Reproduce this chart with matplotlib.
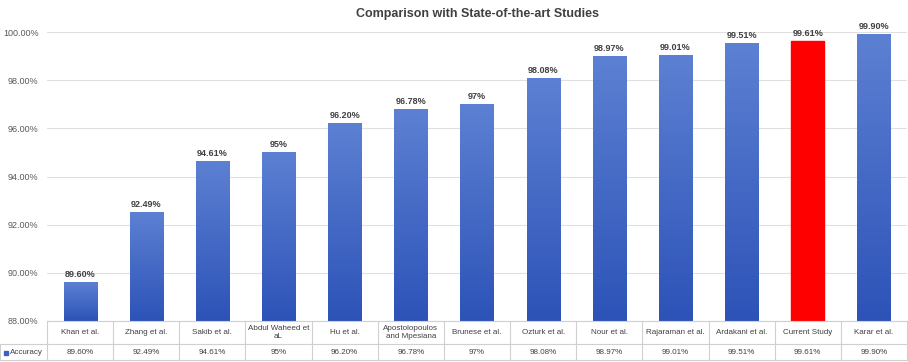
import numpy as np
import matplotlib
matplotlib.use("Agg")
import matplotlib.pyplot as plt
from matplotlib.lines import Line2D
from matplotlib.patches import Rectangle

# -----------------------
# Data
# -----------------------
studies = ["Khan et al.", "Zhang et al.", "Sakib et al.", "Abdul Waheed et\naL", "Hu et al.",
           "Apostolopoulos\nand Mpesiana", "Brunese et al.", "Ozturk et al.", "Nour et al.",
           "Rajaraman et al.", "Ardakani et al.", "Current Study", "Karar et al."]
accuracy = [89.60, 92.49, 94.61, 95.0, 96.20, 96.78, 97.0, 98.08, 98.97, 99.01, 99.51, 99.61, 99.90]
value_labels = ["89.60%", "92.49%", "94.61%", "95%", "96.20%", "96.78%", "97%", "98.08%",
                "98.97%", "99.01%", "99.51%", "99.61%", "99.90%"]
highlight = "Current Study"
y_ticks = [88, 90, 92, 94, 96, 98, 100]

W, H = 908, 362
fig = plt.figure(figsize=(W / 100, H / 100), dpi=100)
plt.rcParams['font.family'] = ['Liberation Sans', 'DejaVu Sans']

# axes box in pixel coords
left, right, top, bottom = 47, 907, 32, 321
ax = fig.add_axes([left / W, 1 - bottom / H, (right - left) / W, (bottom - top) / H])

x = np.arange(len(studies))
bars = ax.bar(x, [a - 88 for a in accuracy], bottom=88, width=0.5, color="none", zorder=3)

# gradient fill for the blue bars
grad = np.linspace(0, 1, 100).reshape(-1, 1)
blue_cmap = matplotlib.colors.LinearSegmentedColormap.from_list("b", ["#2d53b8", "#5c80d2"])
for b, name in zip(bars, studies):
    bx, by, bw, bh = b.get_x(), b.get_y(), b.get_width(), b.get_height()
    if name == highlight:
        ax.add_patch(Rectangle((bx, by), bw, bh, color="#ff0000", zorder=3))
    else:
        ax.imshow(grad, cmap=blue_cmap, extent=(bx, bx + bw, by, by + bh),
                  origin="lower", aspect="auto", zorder=3)

for xi, a, lab in zip(x, accuracy, value_labels):
    ax.text(xi, a + 0.15, lab, ha="center", va="bottom", fontsize=6.5,
            fontweight="bold", color="#404040", zorder=4)

ax.set_xlim(-0.5, len(studies) - 0.5)
ax.set_ylim(88, 100)
ax.set_yticks(y_ticks)
ax.set_yticklabels([f"{t:.2f}%" for t in y_ticks], fontsize=6.5, color="#595959")
ax.tick_params(axis="y", length=0, pad=6)
ax.set_xticks([])
ax.grid(axis="y", color="#e0e0e0", linewidth=0.8, zorder=0)
for s in ax.spines.values():
    s.set_visible(False)

ax.set_title("Comparison with State-of-the-art Studies", fontsize=9, fontweight="bold",
             color="#404040", pad=11)

# -----------------------
# Data table below the axes
# -----------------------
def fx(px):
    return px / W

def fy(py):
    return 1 - py / H

line_c = "#d0d0d0"
row1, row2, row3 = 321, 344, 360
cell_w = (right - left) / len(studies)
fig.add_artist(Line2D([fx(left), fx(right)], [fy(row1), fy(row1)], color=line_c, lw=0.8))
fig.add_artist(Line2D([fx(0), fx(right)], [fy(row2), fy(row2)], color=line_c, lw=0.8))
fig.add_artist(Line2D([fx(0), fx(right)], [fy(row3), fy(row3)], color=line_c, lw=0.8))
fig.add_artist(Line2D([fx(0), fx(0)], [fy(row2), fy(row3)], color=line_c, lw=0.8))
for i in range(len(studies) + 1):
    px = left + i * cell_w
    fig.add_artist(Line2D([fx(px), fx(px)], [fy(row1), fy(row3)], color=line_c, lw=0.8))

for i, (name, lab) in enumerate(zip(studies, value_labels)):
    cx = left + (i + 0.5) * cell_w
    fig.text(fx(cx), fy((row1 + row2) / 2), name, ha="center", va="center", fontsize=5.8,
             color="#404040", linespacing=1.2)
    fig.text(fx(cx), fy((row2 + row3) / 2), lab, ha="center", va="center", fontsize=5.8,
             color="#404040")

fig.add_artist(Rectangle((fx(4), fy(354.5)), 4 / W, 4 / H, color="#3a62c4",
                         transform=fig.transFigure))
fig.text(fx(10), fy((row2 + row3) / 2), "Accuracy", ha="left", va="center", fontsize=5.8,
         color="#404040")

fig.savefig("out.png", dpi=100)
